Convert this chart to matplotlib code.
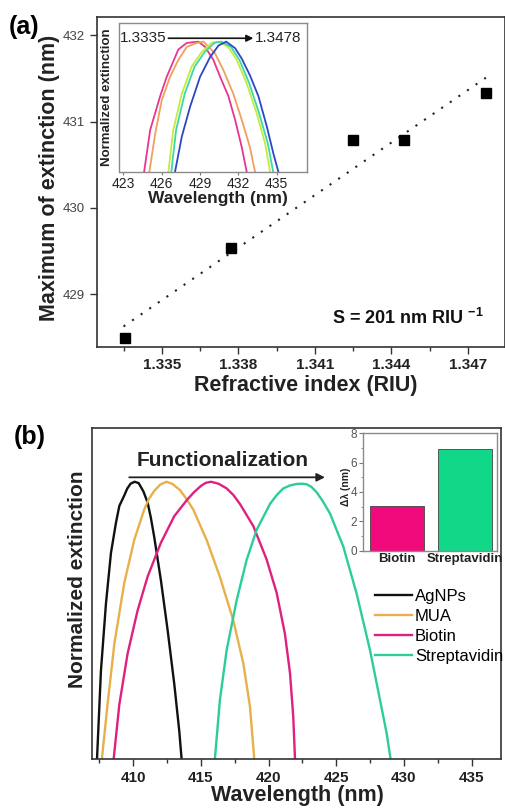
import matplotlib
matplotlib.use("Agg")
import matplotlib.pyplot as plt
import numpy as np
from matplotlib.ticker import MultipleLocator

plt.rcParams["font.family"] = ["Liberation Sans", "DejaVu Sans"]
plt.rcParams["mathtext.fontset"] = "custom"
plt.rcParams["mathtext.rm"] = "Liberation Sans"
plt.rcParams["mathtext.bf"] = "Liberation Sans:bold"

W, H = 506, 809

# ---- panel (a): peak position vs refractive index
ri = [1.33354, 1.33773, 1.34250, 1.34451, 1.34769]
peak_nm = [428.49, 429.54, 430.79, 430.79, 431.33]
fit_range = [1.3335, 1.3477]
ri_ticks = [1.335, 1.338, 1.341, 1.344, 1.347]
peak_ticks = [429, 430, 431, 432]

# inset (a): normalized spectra, one per refractive index
ins_colors = ["#e8358e", "#f0a05a", "#c6ea3e", "#3cd8a8", "#2a48c4"]
ins_x = [
    [424.62, 425.09, 425.87, 426.39, 426.91, 427.30, 427.96, 428.87, 429.39,
     430.04, 430.57, 431.22, 431.74, 432.26, 432.65],
    [425.03, 425.48, 426.00, 426.65, 427.30, 427.96, 428.74, 429.26, 430.17,
     430.83, 431.60, 432.26, 432.90, 433.30],
    [426.52, 426.90, 427.57, 428.35, 429.13, 429.90, 430.40, 431.20, 431.87,
     432.65, 433.43, 434.09, 434.48],
    [426.75, 427.12, 427.80, 428.58, 429.36, 430.12, 430.65, 431.42, 432.08,
     432.85, 433.62, 434.30, 434.72],
    [427.04, 427.57, 428.22, 429.00, 429.78, 430.44, 431.04, 431.74, 432.26,
     432.91, 433.57, 434.22, 434.74, 435.13],
]
ins_y = [
    [0.0, 0.32, 0.58, 0.73, 0.85, 0.94, 0.99, 1.0, 0.96, 0.86, 0.73, 0.58, 0.40, 0.19, 0.0],
    [0.0, 0.29, 0.55, 0.73, 0.86, 0.96, 0.99, 1.0, 0.91, 0.78, 0.60, 0.40, 0.19, 0.0],
    [0.0, 0.32, 0.60, 0.81, 0.92, 0.99, 1.0, 0.96, 0.86, 0.68, 0.45, 0.22, 0.0],
    [0.0, 0.32, 0.60, 0.81, 0.92, 0.99, 1.0, 0.96, 0.86, 0.68, 0.45, 0.22, 0.0],
    [0.0, 0.27, 0.50, 0.73, 0.88, 0.97, 1.0, 0.95, 0.87, 0.74, 0.58, 0.35, 0.14, 0.0],
]
ins_ticks = [423, 426, 429, 432, 435]

# ---- panel (b): functionalization spectra
spec_names = ["AgNPs", "MUA", "Biotin", "Streptavidin"]
spec_colors = ["#111111", "#e8b04a", "#e0207f", "#2ccc9c"]
ag_x = [407.32, 407.61, 407.98, 408.35, 408.72, 408.97, 409.33, 409.55, 409.80,
        410.10, 410.40, 410.75, 411.06, 411.30, 411.55, 412.04, 412.54, 413.03,
        413.40, 413.57]
ag_y = [0.0, 0.318, 0.56, 0.743, 0.852, 0.913, 0.95, 0.975, 0.993, 1.0, 0.995,
        0.965, 0.925, 0.87, 0.80, 0.645, 0.464, 0.27, 0.10, 0.0]
mua_x = [407.68, 408.10, 408.60, 409.33, 410.07, 410.81, 411.15, 411.55, 412.00,
         412.45, 412.90, 413.45, 413.90, 414.43, 415.42, 416.40, 417.39, 418.13,
         418.62, 418.94]
mua_y = [0.0, 0.197, 0.415, 0.634, 0.79, 0.90, 0.938, 0.967, 0.99, 1.0, 0.992,
         0.97, 0.94, 0.90, 0.79, 0.657, 0.50, 0.345, 0.19, 0.0]
bio_x = [408.55, 408.97, 409.58, 410.32, 411.06, 412.04, 413.03, 414.01, 414.50,
         415.00, 415.35, 415.74, 416.30, 416.90, 417.40, 417.88, 418.87, 419.85,
         420.59, 421.20, 421.58, 421.82, 421.95]
bio_y = [0.0, 0.197, 0.38, 0.536, 0.658, 0.78, 0.876, 0.937, 0.963, 0.985, 0.996,
         1.0, 0.993, 0.976, 0.952, 0.92, 0.84, 0.72, 0.60, 0.453, 0.31, 0.153, 0.0]
strep_x = [416.03, 416.40, 416.90, 417.64, 418.37, 419.11, 420.10, 420.60, 421.08,
           421.60, 422.07, 422.45, 422.80, 423.15, 423.55, 424.00, 424.53, 425.52,
           426.50, 427.49, 428.23, 428.72, 429.01]
strep_y = [0.0, 0.213, 0.393, 0.573, 0.717, 0.826, 0.92, 0.952, 0.976, 0.987, 0.992,
           0.993, 0.991, 0.982, 0.962, 0.93, 0.886, 0.766, 0.597, 0.393, 0.213,
           0.093, 0.0]
wl_ticks = [410, 415, 420, 425, 430, 435]

# inset (b): shift after each step
shift_labels = ["Biotin", "Streptavidin"]
shift_nm = [3.05, 6.9]
shift_colors = ["#f00a7c", "#10d888"]


def box(left, top, right, bottom):
    return [left / W, 1 - bottom / H, (right - left) / W, (bottom - top) / H]


def fx(x):
    return x / W


def fy(y):
    return 1 - y / H


def style_spines(ax, color, lw):
    for s in ax.spines.values():
        s.set_color(color)
        s.set_linewidth(lw)


fig = plt.figure(figsize=(W / 100, H / 100), dpi=100)

# ================= (a) =================
ax_a = fig.add_axes(box(97, 17, 505, 347))
ax_a.plot(ri, peak_nm, "s", color="k", ms=7, zorder=3)
coef = np.polyfit(ri, peak_nm, 1)
ax_a.plot(fit_range, np.polyval(coef, fit_range), color="#222222", lw=1.5,
          ls=(0, (1, 4)))
ax_a.set_xlim(1.33246, 1.34845)
ax_a.set_ylim(428.39, 432.21)
ax_a.set_xticks(ri_ticks)
ax_a.set_xticklabels([f"{v:.3f}" for v in ri_ticks], fontweight="bold",
                     fontsize=11, color="#222222")
ax_a.xaxis.set_minor_locator(MultipleLocator(0.0015))
ax_a.set_yticks(peak_ticks)
ax_a.set_yticklabels([str(v) for v in peak_ticks], fontsize=9.5, color="#444444")
ax_a.tick_params(axis="x", which="major", length=5, width=1, pad=3, color="#333333")
ax_a.tick_params(axis="x", which="minor", length=3, width=1, color="#333333")
ax_a.tick_params(axis="y", which="major", length=5, width=1, pad=4, color="#333333")
style_spines(ax_a, "#333333", 1.2)
ax_a.text((331.7 - 97) / 408, (347 - 318) / 330,
          r"S = 201 nm RIU $^{\mathbf{-1}}$", transform=ax_a.transAxes,
          fontsize=13, fontweight="bold", ha="left", va="center", color="#111111")

fig.text(fx(24.5), fy(27), "(a)", fontsize=18, fontweight="bold", ha="center", va="center")
fig.text(fx(49.5), fy(178), "Maximum of extinction (nm)", fontsize=15.5,
         fontweight="bold", rotation=90, ha="center", va="center", color="#222222")
fig.text(fx(306), fy(386), "Refractive index (RIU)", fontsize=15.5,
         fontweight="bold", ha="center", va="center", color="#222222")

# inset (a)
ax_i = fig.add_axes(box(119.5, 23.3, 306.7, 171.7))
for xs, ys, c in zip(ins_x, ins_y, ins_colors):
    ax_i.plot(xs, ys, color=c, lw=1.3)
ax_i.set_xlim(422.69, 437.35)
ax_i.set_ylim(0, 1.141)
ax_i.set_xticks(ins_ticks)
ax_i.set_xticklabels([str(v) for v in ins_ticks], fontsize=10, color="#222222")
ax_i.set_yticks([])
ax_i.tick_params(axis="x", length=2, pad=2, color="#777777")
style_spines(ax_i, "#8a8a8a", 1.0)
ax_i.annotate("", xy=(433.17, 1.026), xytext=(426.52, 1.026),
              arrowprops=dict(arrowstyle="-|>", color="#111111", lw=1.2,
                              mutation_scale=10, shrinkA=0, shrinkB=0))
ax_i.text(426.4, 1.026, "1.3335", fontsize=11, ha="right", va="center", color="#222222")
ax_i.text(433.3, 1.026, "1.3478", fontsize=11, ha="left", va="center", color="#222222")
fig.text(fx(107.5), fy(96.7), "Normalized extinction", fontsize=9.5,
         fontweight="bold", rotation=90, ha="center", va="center", color="#222222")
fig.text(fx(218.3), fy(198), "Wavelength (nm)", fontsize=12.5,
         fontweight="bold", ha="center", va="center", color="#222222")

# ================= (b) =================
ax_b = fig.add_axes(box(92, 427.7, 501, 759))
spec_x = [ag_x, mua_x, bio_x, strep_x]
spec_y = [ag_y, mua_y, bio_y, strep_y]
for xs, ys, c, name in zip(spec_x, spec_y, spec_colors, spec_names):
    ax_b.plot(xs, ys, color=c, lw=1.7, label=name, solid_joinstyle="round")
ax_b.set_xlim(406.95, 437.17)
ax_b.set_ylim(0, 1.195)
ax_b.set_yticks([])
ax_b.set_xticks(wl_ticks)
ax_b.set_xticklabels([str(v) for v in wl_ticks], fontweight="bold", fontsize=11,
                     color="#222222")
ax_b.xaxis.set_minor_locator(MultipleLocator(2.5))
ax_b.tick_params(axis="x", which="major", length=5, width=1, pad=4, color="#333333")
ax_b.tick_params(axis="x", which="minor", length=3, width=1, color="#333333")
style_spines(ax_b, "#333333", 1.2)
ax_b.annotate("", xy=(424.16, 1.016), xytext=(409.7, 1.016),
              arrowprops=dict(arrowstyle="-|>", color="#222222", lw=1.3,
                              mutation_scale=12, shrinkA=0, shrinkB=0))
ax_b.text(416.58, 1.078, "Functionalization", fontsize=15, fontweight="bold",
          ha="center", va="center", color="#222222")
ax_b.legend(loc="upper left", bbox_to_anchor=(fx(375), fy(589)),
            bbox_transform=fig.transFigure, frameon=False, fontsize=12,
            handlelength=2.2, handletextpad=0.2, labelspacing=0.3,
            borderpad=0, borderaxespad=0)

fig.text(fx(30), fy(437), "(b)", fontsize=18, fontweight="bold", ha="center", va="center")
fig.text(fx(77.5), fy(579), "Normalized extinction", fontsize=15,
         fontweight="bold", rotation=90, ha="center", va="center", color="#222222")
fig.text(fx(297), fy(796), "Wavelength (nm)", fontsize=15.5,
         fontweight="bold", ha="center", va="center", color="#222222")

# inset (b)
ax_s = fig.add_axes(box(362.7, 433.3, 497, 550.7))
ax_s.bar(range(len(shift_nm)), shift_nm, width=0.8, color=shift_colors,
         edgecolor="#444444", linewidth=0.6)
ax_s.set_xlim(-0.5, 1.47)
ax_s.set_ylim(0, 8)
ax_s.set_xticks(range(len(shift_labels)))
ax_s.set_xticklabels(shift_labels, fontweight="bold", fontsize=9.5, color="#222222")
ax_s.set_yticks([0, 2, 4, 6, 8])
ax_s.set_yticklabels(["0", "2", "4", "6", "8"], fontsize=8.5, color="#555555")
ax_s.yaxis.set_minor_locator(MultipleLocator(1))
ax_s.tick_params(axis="x", length=0, pad=2)
ax_s.tick_params(axis="y", which="major", length=3, pad=1, color="#777777")
ax_s.tick_params(axis="y", which="minor", length=1.5, color="#777777")
style_spines(ax_s, "#8a8a8a", 1.0)
fig.text(fx(346), fy(487), "Δλ (nm)", fontsize=7.5, fontweight="bold",
         rotation=90, ha="center", va="center", color="#222222")

fig.savefig("out.png", dpi=100)
